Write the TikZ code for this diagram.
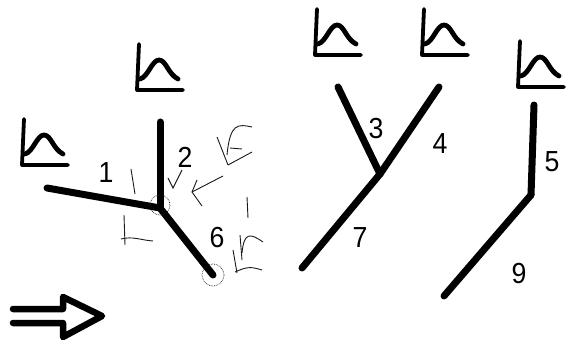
\documentclass[tikz,border=0pt]{standalone}
\usepackage{fontspec}
\setmainfont{Liberation Sans}
\usepackage{tikz}
\colorlet{pencilgray}{black!90!white}
\tikzset{
  branch/.style={line width=7pt,line cap=round,line join=round},
  chartline/.style={line width=3.8pt,line cap=round,line join=round},
  chartcurve/.style={line width=4.8pt,line cap=round,line join=round},
  pencil/.style={line width=0.9pt,color=pencilgray},
  pencilring/.style={line width=0.7pt,densely dotted,color=pencilgray},
  branchlabel/.style={font=\fontsize{29}{29}\selectfont,inner sep=0pt,xscale=0.92},
  bigarrow/.style={line width=6.5pt,line join=round,line cap=round}
}
\newcommand{\chartsign}[1]{
  \begin{scope}[shift={(#1)}]
    \draw [chartline] (2,-46) -- (0,0) -- (46,0);
    \draw [chartcurve] (3,-11) .. controls (11,-13) and (15,-30) .. (22,-30)
                       .. controls (29,-30) and (31,-16) .. (41,-11);
  \end{scope}
}
\begin{document}
\begin{tikzpicture}[x=1pt,y=-1pt]
      \useasboundingbox (0,0) rectangle (570,342);

      \chartsign{22,165}
      \chartsign{137,90}
      \chartsign{315,55}
      \chartsign{422,55}
      \chartsign{518,87}

      % left tree
      \coordinate (leaf1) at (47,188);
      \coordinate (leaf2) at (160,122);
      \coordinate (end6) at (213,275);
      \coordinate (join12) at (160,208);
      \draw [branch] (leaf1) -- (join12);
      \draw [branch] (leaf2) -- (join12);
      \draw [branch] (join12) -- (end6);

      % middle tree
      \coordinate (leaf3) at (338,87);
      \coordinate (leaf4) at (439,87);
      \coordinate (end7) at (302,268);
      \coordinate (join34) at (380,174);
      \draw [branch] (leaf3) -- (join34);
      \draw [branch] (leaf4) -- (join34);
      \draw [branch] (join34) -- (end7);

      % right tree
      \coordinate (leaf5) at (534,105);
      \coordinate (bend59) at (531,195);
      \coordinate (end9) at (444,296);
      \draw [branch] (leaf5) -- (bend59);
      \draw [branch] (bend59) -- (end9);

      \node [branchlabel] (lab1) at (106,173) {1};
      \node [branchlabel] (lab2) at (185,157) {2};
      \node [branchlabel] (lab3) at (376,129) {3};
      \node [branchlabel] (lab4) at (440,144) {4};
      \node [branchlabel] (lab5) at (552,162) {5};
      \node [branchlabel] (lab6) at (217,238) {6};
      \node [branchlabel] (lab7) at (360,238) {7};
      \node [branchlabel] (lab9) at (519,274) {9};

      % pencil marks
      \draw [pencilring] (join12) ++(0,-3) circle (10);
      \draw [pencilring] (end6) circle (11);
      \draw [pencil] (131,169) -- (135,194);
      \draw [pencil] (168,178) -- (173,188) -- (182,170);
      \draw [pencil] (223,176) -- (192,192);
      \draw [pencil] (197,180) -- (192,192) -- (202,206);
      \draw [pencil] (217,137) -- (228,165);
      \draw [pencil] (228,165) -- (252,152);
      \draw [pencil] (227,155) .. controls (230,123) and (238,124) .. (252,127);
      \draw [pencil] (230,148) -- (242,149);
      \draw [pencil] (247,197) -- (248,218);
      \draw [pencil] (124,215) -- (125,245);
      \draw [pencil] (121,239) .. controls (133,236) and (140,240) .. (153,241);
      \draw [pencil] (240,235) -- (242,260);
      \draw [pencil] (242,253) .. controls (244,232) and (250,233) .. (263,242);
      \draw [pencil] (233,250) -- (237,273);
      \draw [pencil] (235,272) .. controls (248,266) and (252,267) .. (262,270);

      % flow arrow
      \draw [bigarrow] (13,309) -- (63,309) -- (63,297) -- (102,316) -- (63,337) -- (63,323) -- (13,323);

\end{tikzpicture}
\end{document}
